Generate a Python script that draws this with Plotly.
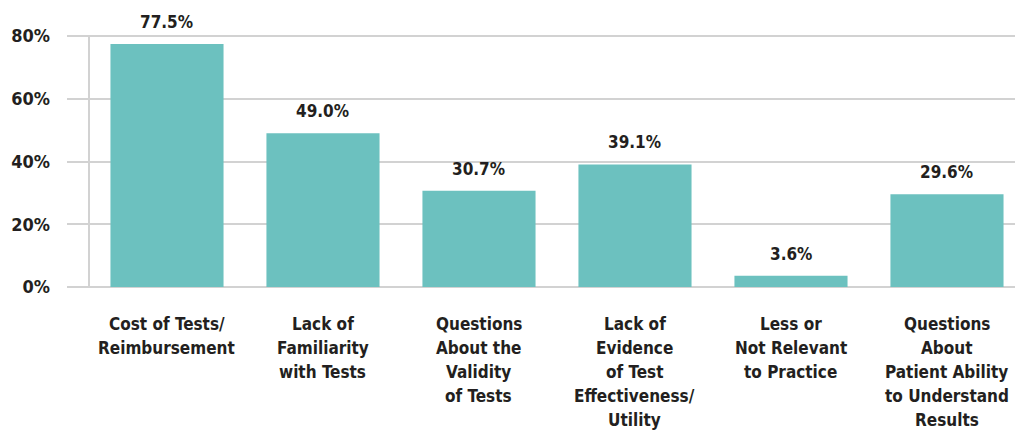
import plotly.graph_objects as go

categories = [
    "Cost of Tests/<br>Reimbursement",
    "Lack of<br>Familiarity<br>with Tests",
    "Questions<br>About the<br>Validity<br>of Tests",
    "Lack of<br>Evidence<br>of Test<br>Effectiveness/<br>Utility",
    "Less or<br>Not Relevant<br>to Practice",
    "Questions<br>About<br>Patient Ability<br>to Understand<br>Results",
]
values = [77.5, 49.0, 30.7, 39.1, 3.6, 29.6]
y_ticks = [0, 20, 40, 60, 80]
y_labels = ["0%", "20%", "40%", "60%", "80%"]

FONT = "DejaVu Sans Condensed, Liberation Sans Narrow, sans-serif"
TXT = "#231f20"
GRID = "#d2d2d2"
BAR = "#6cc1bf"

xs = list(range(len(values)))

fig = go.Figure()
fig.add_trace(go.Bar(
    x=xs, y=values, width=0.725,
    marker=dict(color=BAR, line=dict(width=0)),
    cliponaxis=False, hoverinfo="skip",
))

shapes = [dict(type="line", xref="x", yref="y", x0=-0.5, x1=-0.5, y0=-1.9, y1=80.4,
               line=dict(color=GRID, width=2), layer="below")]
for i in range(len(values)):
    shapes.append(dict(type="line", xref="x", yref="y", x0=i + 0.5, x1=i + 0.5,
                       y0=-1.9, y1=0, line=dict(color=GRID, width=2), layer="below"))

annotations = []
for i, v in enumerate(values):
    annotations.append(dict(
        x=i, y=v, xref="x", yref="y", text=f"<b>{v:.1f}%</b>",
        showarrow=False, yanchor="bottom", yshift=10,
        font=dict(family=FONT, size=17, color=TXT),
    ))
for i, c in enumerate(categories):
    for k, line in enumerate(c.split("<br>")):
        annotations.append(dict(
            x=i, y=-0.098, xref="x", yref="paper", text=f"<b>{line}</b>",
            showarrow=False, yanchor="top", align="center", yshift=-24 * k,
            font=dict(family=FONT, size=17, color=TXT),
        ))

fig.update_layout(
    width=1015, height=430,
    margin=dict(l=67, r=0, t=33, b=143),
    paper_bgcolor="white", plot_bgcolor="white",
    showlegend=False,
    shapes=shapes,
    annotations=annotations,
    xaxis=dict(
        range=[-0.641, 5.436], showticklabels=False,
        showgrid=False, zeroline=False, showline=False, ticks="",
        automargin=False,
    ),
    yaxis=dict(
        range=[0, 81], tickvals=y_ticks, ticktext=y_labels,
        showgrid=True, gridcolor=GRID, gridwidth=2,
        zeroline=True, zerolinecolor=GRID, zerolinewidth=2,
        showline=False, ticks="", automargin=False,
        tickfont=dict(family=FONT, size=18, color=TXT, weight="bold"),
        ticklabelstandoff=16,
    ),
)

fig.write_html("out.html", config={"displayModeBar": False},
               post_script="document.body.style.margin='0';")
